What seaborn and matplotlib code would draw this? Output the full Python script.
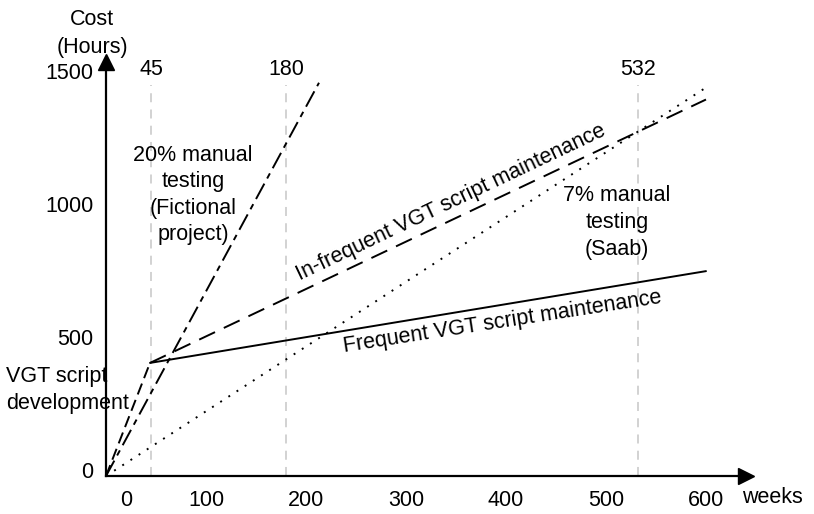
import matplotlib
matplotlib.use("Agg")
import matplotlib.pyplot as plt
import matplotlib.transforms as mtransforms
import seaborn as sns
import pandas as pd

# Cost model (schematic) in weeks vs hours
dev_weeks = [0, 44]
dev_hours = [0, 425]
freq_weeks = [44, 600]
freq_hours = [425, 770]
infreq_weeks = [44, 600]
infreq_hours = [425, 1415]
manual7_weeks = [0, 600]
manual7_hours = [0, 1460]
manual20_weeks = [0, 213]
manual20_hours = [0, 1478]

breakeven_weeks = [45, 180, 532]
x_ticks = [0, 100, 200, 300, 400, 500, 600]
y_ticks = [0, 500, 1000, 1500]

series_names = ['dev', 'frequent', 'infrequent', 'manual7', 'manual20']
df = pd.concat([
    pd.DataFrame({'weeks': w, 'hours': h, 'series': s})
    for w, h, s in zip(
        [dev_weeks, freq_weeks, infreq_weeks, manual7_weeks, manual20_weeks],
        [dev_hours, freq_hours, infreq_hours, manual7_hours, manual20_hours],
        series_names)
], ignore_index=True)

line_dashes = {
    'dev': (6, 3),
    'frequent': '',
    'infrequent': (9, 5),
    'manual7': (1, 4),
    'manual20': (9, 3, 3, 3),
}

sns.set_style("white")
plt.rcParams['font.family'] = ['Liberation Sans', 'DejaVu Sans']
plt.rcParams['text.color'] = 'black'
plt.rcParams['xtick.color'] = 'black'
plt.rcParams['ytick.color'] = 'black'
FS = 15.5
LS = 1.35

fig = plt.figure(figsize=(8.14, 5.14), dpi=100)
ax = fig.add_axes([106 / 814, 1 - 476 / 514, 640 / 814, 414 / 514])

# break-even markers
ax.vlines(breakeven_weeks, 0, 1470, colors='#cfcfcf', linestyles=(0, (5, 4)), linewidth=1.3, zorder=1)
for w in breakeven_weeks:
    ax.text(w, 1528, str(w), ha='center', va='center', fontsize=FS)

sns.lineplot(data=df, x='weeks', y='hours', style='series', units='series',
             estimator=None, sort=False, dashes=line_dashes, color='black',
             linewidth=1.4, legend=False, ax=ax)

ax.set_xlim(0, 640)
ax.set_ylim(0, 1556)
ax.set_xticks(x_ticks)
ax.set_yticks(y_ticks)
ax.tick_params(length=0, labelsize=FS, labelcolor='black')
ax.tick_params(axis='y', pad=9)
ax.tick_params(axis='x', pad=10)
ax.set_xlabel('')
ax.set_ylabel('')
for side in ['top', 'right']:
    ax.spines[side].set_visible(False)
for side in ['left', 'bottom']:
    ax.spines[side].set_color('black')
    ax.spines[side].set_linewidth(1.6)

# nudge tick labels like the original drawing: x "0" clear of the corner, y labels slightly up
fig.canvas.draw()
xlabels = ax.get_xticklabels()
xlabels[0].set_transform(xlabels[0].get_transform() + mtransforms.ScaledTranslation(0.2, 0, fig.dpi_scale_trans))
for lbl in ax.get_yticklabels():
    lbl.set_transform(lbl.get_transform() + mtransforms.ScaledTranslation(0, 0.06, fig.dpi_scale_trans))

# arrow heads on axes
ax.plot(1, 0, '>k', markersize=12, transform=ax.get_yaxis_transform(), clip_on=False)
ax.plot(0, 1, '^k', markersize=12, transform=ax.get_xaxis_transform(), clip_on=False)

ax.text(666, -79, 'weeks', ha='center', va='center', fontsize=FS, clip_on=False)
ax.text(-14, 1662, 'Cost\n(Hours)', ha='center', va='center', fontsize=FS,
        linespacing=1.45, clip_on=False)

ax.text(87, 1056, '20% manual\ntesting\n(Fictional\nproject)', ha='center', va='center',
        fontsize=FS, linespacing=LS)
ax.text(511, 953, '7% manual\ntesting\n(Saab)', ha='center', va='center',
        fontsize=FS, linespacing=LS)
ax.text(345, 1026, 'In-frequent VGT script maintenance', ha='center', va='center',
        fontsize=FS, rotation=25.4, rotation_mode='anchor')
ax.text(396, 579, 'Frequent VGT script maintenance', ha='center', va='center',
        fontsize=FS, rotation=8.8, rotation_mode='anchor')
ax.text(-100, 323, 'VGT script\ndevelopment', ha='left', va='center', fontsize=FS,
        linespacing=LS, clip_on=False)

fig.savefig('out.png', dpi=100)
